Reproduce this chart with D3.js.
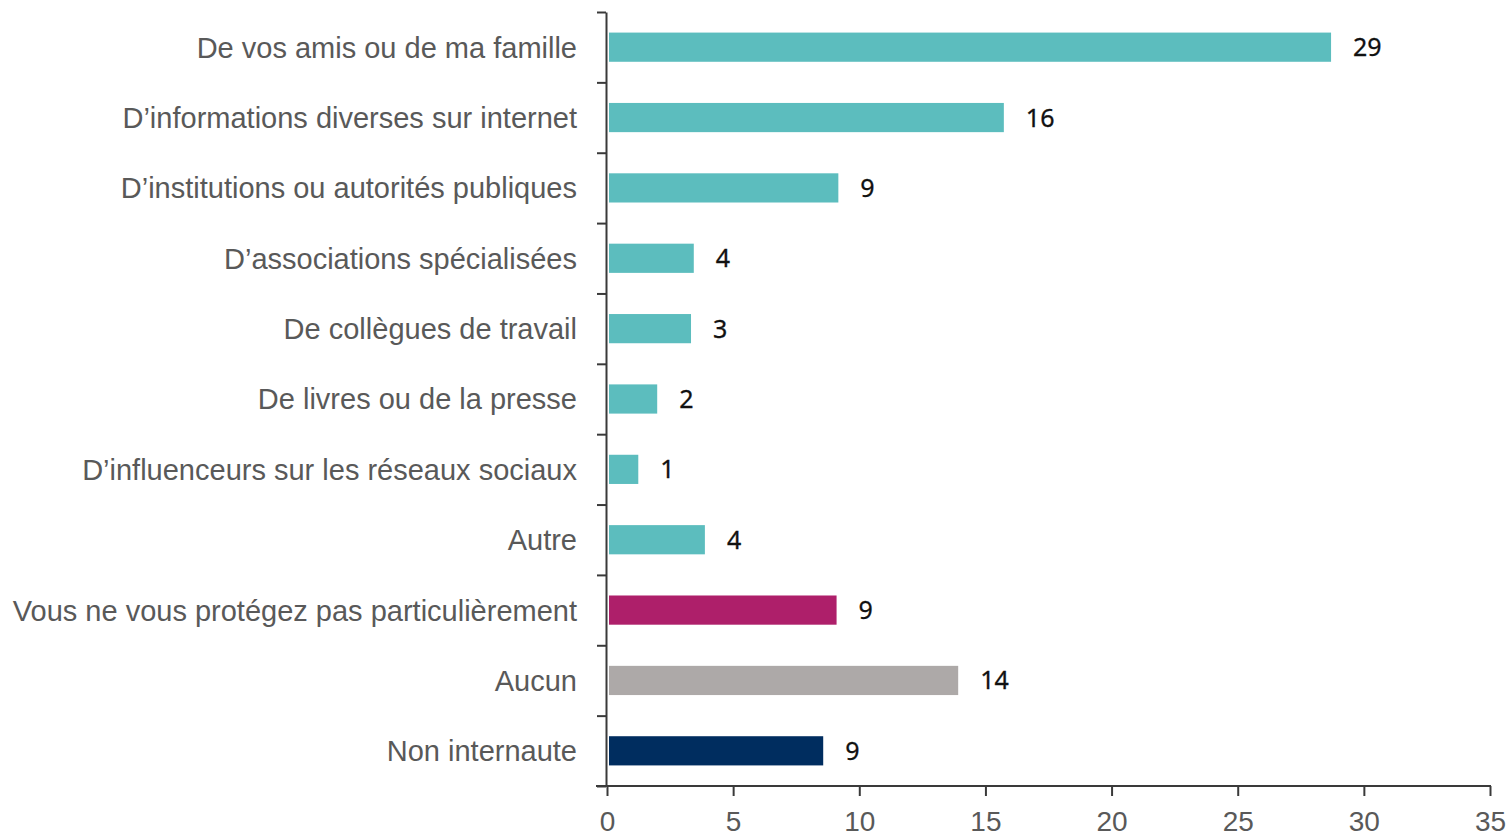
<!DOCTYPE html>
<html>
<head>
<meta charset="utf-8">
<script src="https://cdn.jsdelivr.net/npm/d3@7"></script>
<style>
  html, body { margin: 0; padding: 0; background: #fff; }
  svg { display: block; }
</style>
</head>
<body>
<svg id="chart" width="1511" height="838"></svg>
<script>
const categories = [
  "De vos amis ou de ma famille",
  "D’informations diverses sur internet",
  "D’institutions ou autorités publiques",
  "D’associations spécialisées",
  "De collègues de travail",
  "De livres ou de la presse",
  "D’influenceurs sur les réseaux sociaux",
  "Autre",
  "Vous ne vous protégez pas particulièrement",
  "Aucun",
  "Non internaute"
];
const values = [28.7, 15.73, 9.17, 3.44, 3.33, 1.99, 1.24, 3.88, 9.1, 13.92, 8.57];
const valueLabels = ["29", "16", "9", "4", "3", "2", "1", "4", "9", "14", "9"];
const barColors = ["#5CBDBE", "#5CBDBE", "#5CBDBE", "#5CBDBE", "#5CBDBE", "#5CBDBE", "#5CBDBE", "#5CBDBE", "#AE1F6A", "#ADA9A8", "#002D5F"];
const xTicks = [0, 5, 10, 15, 20, 25, 30, 35];

const svg = d3.select("#chart");
const x = d3.scaleLinear().domain([0, 35]).range([607, 1490]);
const y = d3.scaleBand().domain(categories).range([12, 786]).padding(0);
const barH = y.bandwidth() * 0.415;

const labelFont = "'Liberation Sans', Arial, sans-serif";
const axisColor = "#3a3a3a";

// bars
svg.append("g").selectAll("rect")
  .data(categories)
  .join("rect")
  .attr("x", x(0) + 2)
  .attr("y", d => y(d) + (y.bandwidth() - barH) / 2)
  .attr("width", (d, i) => x(values[i]) - x(0) - 2)
  .attr("height", barH)
  .attr("fill", (d, i) => barColors[i]);

// value labels
svg.append("g").selectAll("text")
  .data(categories)
  .join("text")
  .attr("x", (d, i) => x(values[i]) + 22)
  .attr("y", d => y(d) + y.bandwidth() / 2)
  .attr("dy", "0.36em")
  .attr("font-family", "'Noto Sans', 'DejaVu Sans', sans-serif")
  .attr("font-size", 25)
  .attr("fill", "#111")
  .attr("stroke", "#111")
  .attr("stroke-width", 0.3)
  .text((d, i) => valueLabels[i]);

// y axis labels
const yAxis = svg.append("g")
  .attr("transform", `translate(${x(0)},0)`)
  .call(d3.axisLeft(y).tickSize(0).tickPadding(30));
yAxis.select(".domain").remove();
yAxis.selectAll("text")
  .attr("font-family", labelFont)
  .attr("font-size", 29)
  .attr("fill", "#595959")
  .attr("dy", "0.36em");

// y axis line and boundary ticks
const yLin = d3.scaleLinear().domain([0, categories.length]).range([12, 786]);
const yTickAxis = svg.append("g")
  .attr("transform", `translate(${x(0) - 1},0)`)
  .call(d3.axisLeft(yLin).tickValues(d3.range(categories.length + 1)).tickSize(9).tickSizeOuter(0).tickFormat(""));
yTickAxis.select(".domain").attr("stroke", axisColor).attr("stroke-width", 2);
yTickAxis.selectAll(".tick line").attr("stroke", axisColor).attr("stroke-width", 2);

// x axis
const xAxis = svg.append("g")
  .attr("transform", `translate(0,786)`)
  .call(d3.axisBottom(x).tickValues(xTicks).tickSize(10).tickSizeOuter(0).tickPadding(15));
xAxis.select(".domain").remove();
xAxis.append("line")
  .attr("x1", x(0) - 11).attr("x2", x(35) + 1)
  .attr("y1", 0).attr("y2", 0)
  .attr("stroke", axisColor).attr("stroke-width", 2);
xAxis.selectAll(".tick line").attr("stroke", axisColor).attr("stroke-width", 2);
xAxis.selectAll("text")
  .attr("font-family", labelFont)
  .attr("font-size", 28)
  .attr("fill", "#595959");
</script>
</body>
</html>
